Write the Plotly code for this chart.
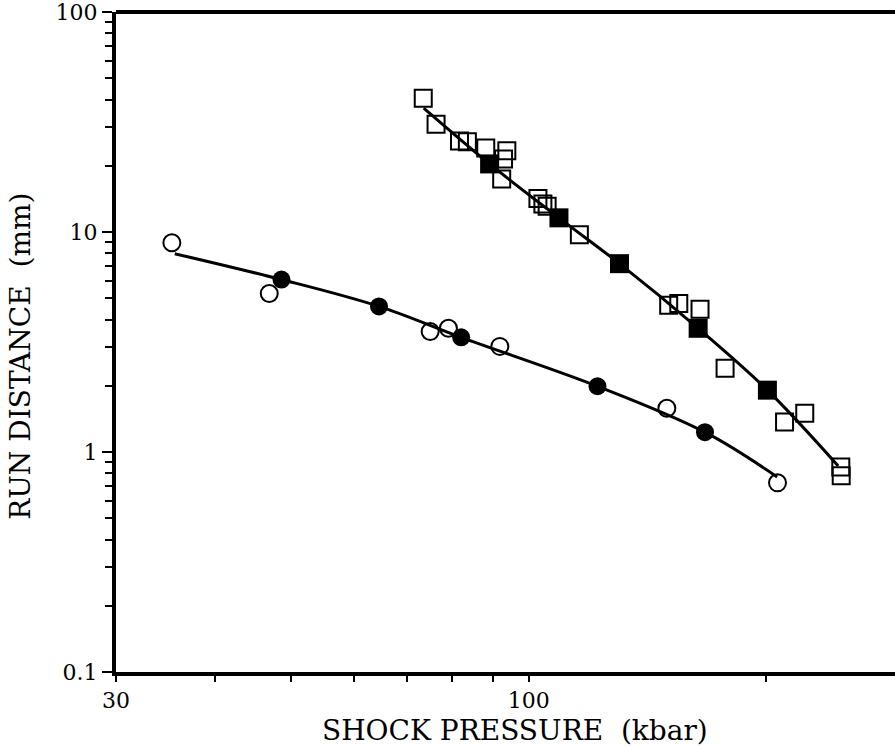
import plotly.graph_objects as go

# ---- data (shock pressure kbar, run distance mm) ----
open_circle_p = [35.3, 46.9, 75.0, 79.1, 91.9, 149.6, 206.6]
open_circle_d = [8.94, 5.25, 3.53, 3.65, 3.02, 1.58, 0.724]
filled_circle_p = [48.6, 64.6, 82.1, 122.2, 167.2]
filled_circle_d = [6.08, 4.59, 3.32, 1.99, 1.23]
circle_fit_p = [35.6, 48.6, 64.6, 82.1, 122.2, 167.2, 206.4]
circle_fit_d = [7.97, 6.08, 4.59, 3.32, 1.99, 1.23, 0.77]

open_square_p = [73.5, 76.3, 81.7, 83.6, 88.2, 93.8, 92.9, 92.4, 102.7, 104.2, 105.5,
                 115.9, 150.4, 154.9, 164.8, 177.3, 210.9, 223.7, 248.5, 248.8]
open_square_d = [40.6, 30.9, 25.9, 25.7, 24.1, 23.4, 21.5, 17.4, 14.2, 13.4, 13.1,
                 9.72, 4.64, 4.73, 4.45, 2.40, 1.37, 1.50, 0.855, 0.78]
filled_square_p = [89.2, 109.2, 130.3, 163.9, 200.6]
filled_square_d = [20.4, 11.6, 7.18, 3.65, 1.91]
square_fit_p = [73.6, 89.2, 109.2, 130.3, 163.9, 200.6, 246.6]
square_fit_d = [36.6, 20.4, 11.6, 7.18, 3.65, 1.91, 0.864]

x_major = [30, 100]
x_minor = [40, 50, 60, 70, 80, 90, 200, 300]
y_major = [0.1, 1, 10, 100]
y_major_text = ["0.1", "1", "10", "100"]
y_minor = [m * 10 ** e for e in (-1, 0, 1) for m in range(2, 10)]

x_title = "SHOCK PRESSURE  (kbar)"
y_title = "RUN DISTANCE  (mm)"

FONT = "DejaVu Serif"

fig = go.Figure()
line_style = dict(color="black", width=3)
fig.add_trace(go.Scatter(x=circle_fit_p, y=circle_fit_d, mode="lines", line=line_style,
                         line_shape="spline", showlegend=False))
fig.add_trace(go.Scatter(x=square_fit_p, y=square_fit_d, mode="lines", line=line_style,
                         line_shape="spline", showlegend=False))
fig.add_trace(go.Scatter(x=open_circle_p, y=open_circle_d, mode="markers",
                         marker=dict(symbol="circle-open", size=17, color="black",
                                     line=dict(width=2, color="black")), showlegend=False))
fig.add_trace(go.Scatter(x=filled_circle_p, y=filled_circle_d, mode="markers",
                         marker=dict(symbol="circle", size=18, color="black"), showlegend=False))
fig.add_trace(go.Scatter(x=open_square_p, y=open_square_d, mode="markers",
                         marker=dict(symbol="square-open", size=17, color="black",
                                     line=dict(width=2, color="black")), showlegend=False))
fig.add_trace(go.Scatter(x=filled_square_p, y=filled_square_d, mode="markers",
                         marker=dict(symbol="square", size=19, color="black"), showlegend=False))

fig.update_xaxes(type="log", range=[1.4770, 2.464], showgrid=False, zeroline=False,
                 showline=True, linecolor="black", linewidth=4,
                 tickvals=x_major, ticktext=[str(v) for v in x_major],
                 ticks="outside", ticklen=6, tickwidth=2, tickcolor="black",
                 ticklabeloverflow="allow",
                 tickfont=dict(family=FONT, size=22, color="black"),
                 minor=dict(tickvals=x_minor, ticks="outside", ticklen=6, tickwidth=2,
                            tickcolor="black", showgrid=False))
fig.update_yaxes(type="log", range=[-1.0003, 2.0003], showgrid=False, zeroline=False,
                 showline=True, linecolor="black", linewidth=4,
                 tickvals=y_major, ticktext=y_major_text,
                 ticks="outside", ticklen=10, tickwidth=2, tickcolor="black",
                 ticklabeloverflow="allow",
                 tickfont=dict(family=FONT, size=22, color="black"),
                 minor=dict(tickvals=y_minor, ticks="outside", ticklen=7, tickwidth=2,
                            tickcolor="black", showgrid=False))

fig.add_shape(type="line", xref="paper", yref="paper", x0=0, x1=1, y0=1, y1=1,
              line=dict(color="black", width=4))

fig.add_annotation(text=x_title, xref="paper", yref="paper", x=0.512, y=-0.089,
                   xanchor="center", yanchor="middle", showarrow=False,
                   font=dict(family=FONT, size=28, color="black"))
fig.add_annotation(text=y_title, xref="paper", yref="paper", x=-0.122, y=0.479,
                   xanchor="center", yanchor="middle", showarrow=False, textangle=-90,
                   font=dict(family=FONT, size=28, color="black"))

fig.update_layout(width=895, height=746, margin=dict(l=116, r=0, t=10, b=74),
                  plot_bgcolor="white", paper_bgcolor="white",
                  font=dict(family=FONT, color="black"))

fig.write_html("out.html")
